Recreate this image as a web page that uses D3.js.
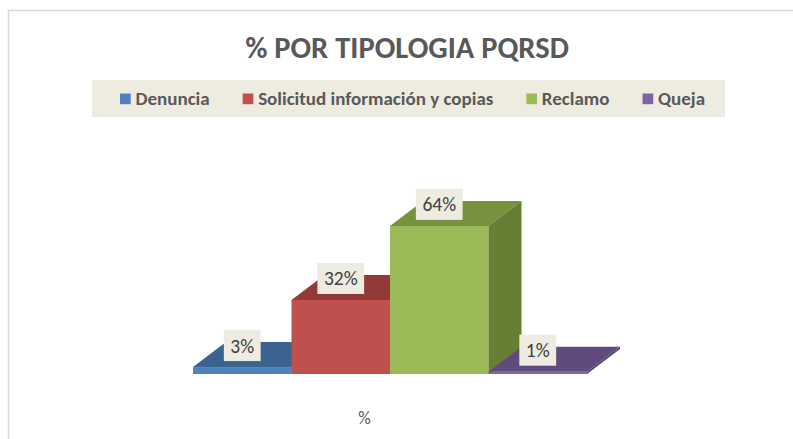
<!DOCTYPE html>
<html>
<head>
<meta charset="utf-8">
<script src="https://cdn.jsdelivr.net/npm/d3@7"></script>
<style>
  body { margin: 0; background: #ffffff; }
  text { font-family: Carlito, "Open Sans", sans-serif; }
</style>
</head>
<body>
<div id="chart"></div>
<script>
// Data
const categories = ["Denuncia", "Solicitud información y copias", "Reclamo", "Queja"];
const values = [3, 32, 64, 1];
const valueLabels = ["3%", "32%", "64%", "1%"];
const axisCategory = ["%"];
const chartTitle = "% POR TIPOLOGIA PQRSD";

function main() {
    const width = 793, height = 439;

    // Face colours: front, top, side
    const frontColors = ["#4f81bd", "#c0504d", "#9bbb59", "#8064a2"];
    const topColors = ["#3b638f", "#933a38", "#77923f", "#604b7c"];
    const sideColors = ["#365a83", "#853533", "#657f35", "#56436f"];

    const svg = d3.select("#chart")
        .append("svg")
        .attr("width", width)
        .attr("height", height);

    // Chart border (only top and left visible)
    svg.append("path")
        .attr("d", "M8.5,439 L8.5,10.5 L793,10.5")
        .attr("fill", "none")
        .attr("stroke", "#d9d9d9")
        .attr("stroke-width", 1.5);

    // Title
    svg.append("text")
        .attr("x", 407)
        .attr("y", 58)
        .attr("text-anchor", "middle")
        .style("font-size", "30.5px")
        .style("font-weight", "bold")
        .style("fill", "#595959")
        .text(chartTitle);

    // Legend box
    const legendBox = {x: 92, y: 80, w: 633, h: 37};
    svg.append("rect")
        .attr("x", legendBox.x)
        .attr("y", legendBox.y)
        .attr("width", legendBox.w)
        .attr("height", legendBox.h)
        .attr("fill", "#eeece1");

    const items = svg.append("g")
        .selectAll("g")
        .data(categories)
        .join("g");
    items.append("rect")
        .attr("width", 10.7)
        .attr("height", 10.7)
        .attr("y", -11)
        .attr("fill", (d, i) => frontColors[i]);
    items.append("text")
        .attr("x", 15.5)
        .attr("y", 0)
        .style("font-size", "19px")
        .style("font-weight", "bold")
        .style("fill", "#595959")
        .text(d => d);

    // Lay out legend items one after another
    let cursor = 120;
    const gap = 33;
    items.attr("transform", function() {
        const w = 15.5 + d3.select(this).select("text").node().getComputedTextLength();
        const t = `translate(${cursor},104.5)`;
        cursor += w + gap;
        return t;
    });

    // 3D bars
    const x = d3.scaleBand()
        .domain(categories)
        .range([193, 587])
        .padding(0);
    const y = d3.scaleLinear()
        .domain([0, 70])
        .range([374, 212]);
    const depth = {dx: 33, dy: -25};

    const bars = svg.append("g")
        .selectAll("g")
        .data(categories)
        .join("g");

    // front
    bars.append("rect")
        .attr("x", d => x(d))
        .attr("y", (d, i) => y(values[i]))
        .attr("width", x.bandwidth())
        .attr("height", (d, i) => y(0) - y(values[i]))
        .attr("fill", (d, i) => frontColors[i]);
    // top
    bars.append("path")
        .attr("d", (d, i) => {
            const x0 = x(d), x1 = x(d) + x.bandwidth(), yt = y(values[i]);
            return `M${x0},${yt} L${x1},${yt} L${x1 + depth.dx},${yt + depth.dy} L${x0 + depth.dx},${yt + depth.dy} Z`;
        })
        .attr("fill", (d, i) => topColors[i]);
    // side
    bars.append("path")
        .attr("d", (d, i) => {
            const x1 = x(d) + x.bandwidth(), yt = y(values[i]), yb = y(0);
            return `M${x1},${yt} L${x1 + depth.dx},${yt + depth.dy} L${x1 + depth.dx},${yb + depth.dy} L${x1},${yb} Z`;
        })
        .attr("fill", (d, i) => sideColors[i]);

    // Data labels
    const labels = svg.append("g")
        .selectAll("g")
        .data(categories)
        .join("g")
        .attr("transform", (d, i) => `translate(${x(d) + x.bandwidth() / 2},${y(values[i]) - 21.5})`);
    const labelText = labels.append("text")
        .attr("text-anchor", "middle")
        .attr("y", 7)
        .style("font-size", "19.5px")
        .style("fill", "#404040")
        .text((d, i) => valueLabels[i]);
    labels.insert("rect", "text")
        .attr("fill", "#eeece1")
        .attr("height", 31)
        .attr("y", -15.5)
        .attr("width", (d, i) => labelText.nodes()[i].getComputedTextLength() + 13)
        .attr("x", (d, i) => -(labelText.nodes()[i].getComputedTextLength() + 13) / 2);

    // Category axis label
    svg.append("text")
        .attr("x", 364.5)
        .attr("y", 424)
        .attr("text-anchor", "middle")
        .style("font-size", "17.5px")
        .style("fill", "#595959")
        .text(axisCategory[0]);
}

main();
</script>
</body>
</html>
